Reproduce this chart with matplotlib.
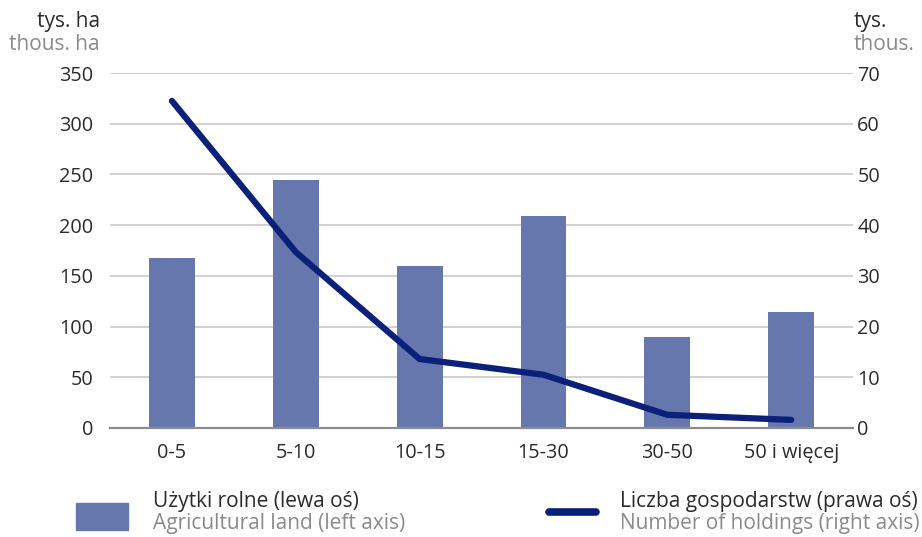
import matplotlib
matplotlib.use("Agg")
import matplotlib.pyplot as plt
from matplotlib.patches import Rectangle
from matplotlib.lines import Line2D
import numpy as np

plt.rcParams['font.family'] = ['Open Sans', 'DejaVu Sans']

categories = ["0-5", "5-10", "10-15", "15-30", "30-50", "50 i więcej"]
agricultural_land = [168, 245, 160, 209, 90, 114]      # tys. ha, left axis
holdings = [64.5, 34.7, 13.6, 10.5, 2.6, 1.6]          # tys., right axis
left_ticks = [0, 50, 100, 150, 200, 250, 300, 350]
right_ticks = [0, 10, 20, 30, 40, 50, 60, 70]

BAR_COLOR = "#6677ae"
LINE_COLOR = "#0b2078"
TEXT_DARK = "#2b2b2b"
TEXT_GRAY = "#8a8a8a"
GRID = "#c9c9c9"
FS_TICK = 14.3
FS_TEXT = 15

fig = plt.figure(figsize=(9.22, 5.37), dpi=100)
ax = fig.add_axes([0.1193, 0.203, 0.806, 0.661])
x = np.arange(len(categories))

ax.bar(x, agricultural_land, width=0.37, color=BAR_COLOR, zorder=2)
ax.set_xlim(-0.5, len(categories) - 0.5)
ax.set_ylim(0, 350)
ax.set_yticks(left_ticks)
ax.set_xticks(x)
ax.set_xticklabels(categories)
ax.grid(axis='y', color=GRID, linewidth=1.2, zorder=0)
ax.set_axisbelow(True)
for s in ["top", "right", "left"]:
    ax.spines[s].set_visible(False)
ax.spines["bottom"].set_color("#8c8c8c")
ax.spines["bottom"].set_linewidth(1.6)
ax.spines["bottom"].set_zorder(3)
ax.tick_params(axis='both', length=0, labelsize=FS_TICK, labelcolor=TEXT_DARK)
ax.tick_params(axis='x', pad=11)
ax.tick_params(axis='y', pad=12)

ax2 = ax.twinx()
ax2.plot(x, holdings, color=LINE_COLOR, linewidth=4.5, solid_capstyle='round',
         solid_joinstyle='round', zorder=4)
ax2.set_ylim(0, 70)
ax2.set_yticks(right_ticks)
for s in ["top", "right", "left", "bottom"]:
    ax2.spines[s].set_visible(False)
ax2.tick_params(axis='y', length=0, labelsize=FS_TICK, labelcolor=TEXT_DARK, pad=3)

# Axis unit headers
fig.text(100 / 922, 1 - 22 / 537, "tys. ha", ha='right', va='center', fontsize=FS_TEXT, color=TEXT_DARK)
fig.text(100 / 922, 1 - 44 / 537, "thous. ha", ha='right', va='center', fontsize=FS_TEXT, color=TEXT_GRAY)
fig.text(854 / 922, 1 - 22 / 537, "tys.", ha='left', va='center', fontsize=FS_TEXT, color=TEXT_DARK)
fig.text(854 / 922, 1 - 44 / 537, "thous.", ha='left', va='center', fontsize=FS_TEXT, color=TEXT_GRAY)

# Legend
fig.add_artist(Rectangle((76 / 922, 1 - 530 / 537), 52 / 922, 27 / 537,
                         transform=fig.transFigure, color=BAR_COLOR))
fig.text(153 / 922, 1 - 502 / 537, "Użytki rolne (lewa oś)", ha='left', va='center',
         fontsize=FS_TEXT, color=TEXT_DARK)
fig.text(153 / 922, 1 - 524 / 537, "Agricultural land (left axis)", ha='left', va='center',
         fontsize=FS_TEXT, color=TEXT_GRAY)
fig.add_artist(Line2D([549 / 922, 596 / 922], [1 - 512 / 537, 1 - 512 / 537],
                      transform=fig.transFigure, color=LINE_COLOR, linewidth=5.5,
                      solid_capstyle='round'))
fig.text(620 / 922, 1 - 502 / 537, "Liczba gospodarstw (prawa oś)", ha='left', va='center',
         fontsize=FS_TEXT, color=TEXT_DARK)
fig.text(620 / 922, 1 - 524 / 537, "Number of holdings (right axis)", ha='left', va='center',
         fontsize=FS_TEXT, color=TEXT_GRAY)

fig.savefig("out.png", dpi=100)
